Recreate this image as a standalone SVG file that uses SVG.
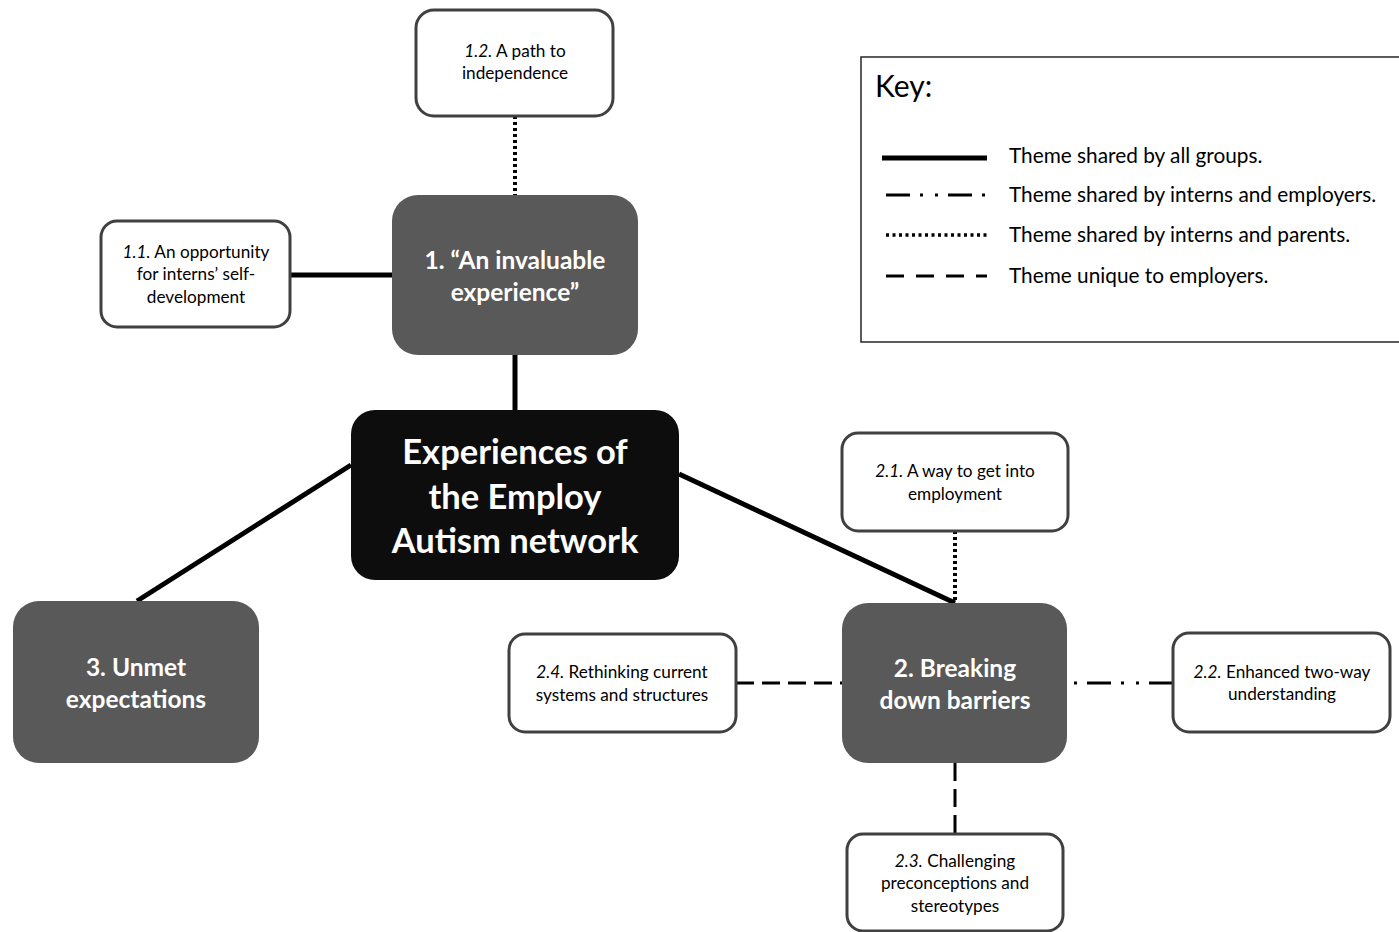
<svg xmlns="http://www.w3.org/2000/svg" width="1399" height="932" viewBox="0 0 1399 932">
<style>
text{font-family:Lato,"Liberation Sans",sans-serif;text-anchor:middle}
.sub rect{fill:#fff;stroke:#404040;stroke-width:3}
.sub text{font-size:17.2px;fill:#000}
.theme rect{fill:#595959}
.theme text{font-size:24.5px;font-weight:bold;fill:#fff}
.center rect{fill:#0d0d0d}
.center text{font-size:34.5px;font-weight:bold;fill:#fff}
.solid{stroke:#000;stroke-width:5;fill:none}
.dot{stroke:#000;stroke-width:4;stroke-dasharray:3 3;fill:none}
.dash{stroke:#000;stroke-width:3;stroke-dasharray:18 8;fill:none}
.ddd{stroke:#000;stroke-width:3;stroke-dasharray:24 10 3 12 3 10;fill:none}
.key text{text-anchor:start;font-size:20.8px;fill:#000}
</style>
<g id="connectors">
<line class="dot" x1="515" y1="116" x2="515" y2="195"/>
<line class="solid" x1="290" y1="275" x2="392" y2="275"/>
<line class="solid" x1="515" y1="355" x2="515" y2="410"/>
<line class="solid" x1="351" y1="465" x2="137" y2="601"/>
<line class="solid" x1="679" y1="474" x2="955" y2="603"/>
<line class="dot" x1="955" y1="531" x2="955" y2="603"/>
<line class="dash" x1="736" y1="683" x2="842" y2="683"/>
<line class="ddd" x1="1173" y1="683" x2="1067" y2="683"/>
<line class="dash" x1="955" y1="763" x2="955" y2="834"/>
</g>
<g id="n12" class="sub"><rect x="416" y="10" width="197" height="106" rx="18"/><text x="515" y="57"><tspan font-style="italic">1.2.</tspan> A path to</text><text x="515" y="79">independence</text></g>
<g id="n11" class="sub"><rect x="101" y="221" width="189" height="106" rx="16"/><text x="196" y="258"><tspan font-style="italic">1.1.</tspan> An opportunity</text><text x="196" y="280">for interns’ self-</text><text x="196" y="303">development</text></g>
<g id="n1" class="theme"><rect x="392" y="195" width="246" height="160" rx="26"/><text x="515" y="269">1. “An invaluable</text><text x="515" y="301">experience”</text></g>
<g id="center" class="center"><rect x="351" y="410" width="328" height="170" rx="24"/><text x="515" y="464">Experiences of</text><text x="515" y="509">the Employ</text><text x="515" y="553">Autism network</text></g>
<g id="n3" class="theme"><rect x="13" y="601" width="246" height="162" rx="26"/><text x="136" y="676">3. Unmet</text><text x="136" y="708">expectations</text></g>
<g id="n2" class="theme"><rect x="842" y="603" width="225" height="160" rx="26"/><text x="955" y="677">2. Breaking</text><text x="955" y="709">down barriers</text></g>
<g id="n21" class="sub"><rect x="842" y="433" width="226" height="98" rx="16"/><text x="955" y="477"><tspan font-style="italic">2.1.</tspan> A way to get into</text><text x="955" y="500">employment</text></g>
<g id="n24" class="sub"><rect x="509" y="634" width="227" height="98" rx="16"/><text x="622" y="678"><tspan font-style="italic">2.4.</tspan> Rethinking current</text><text x="622" y="701">systems and structures</text></g>
<g id="n22" class="sub"><rect x="1173" y="633" width="217" height="99" rx="16"/><text x="1282" y="678"><tspan font-style="italic">2.2.</tspan> Enhanced two-way</text><text x="1282" y="700">understanding</text></g>
<g id="n23" class="sub"><rect x="847" y="834" width="216" height="97" rx="16"/><text x="955" y="867"><tspan font-style="italic">2.3.</tspan> Challenging</text><text x="955" y="889">preconceptions and</text><text x="955" y="912">stereotypes</text></g>
<g id="key" class="key">
<rect x="861" y="57" width="545" height="285" fill="#fff" stroke="#262626" stroke-width="1.5"/>
<text x="875" y="97" style="font-size:30px">Key:</text>
<line x1="882" y1="158" x2="987" y2="158" stroke="#000" stroke-width="5"/>
<text x="1009" y="163">Theme shared by all groups.</text>
<line class="ddd" x1="886" y1="195" x2="987" y2="195"/>
<text x="1009" y="202">Theme shared by interns and employers.</text>
<line x1="886" y1="235" x2="987" y2="235" stroke="#000" stroke-width="3.5" stroke-dasharray="3 3.5"/>
<text x="1009" y="242">Theme shared by interns and parents.</text>
<line x1="886" y1="276" x2="987" y2="276" stroke="#000" stroke-width="3" stroke-dasharray="18 12"/>
<text x="1009" y="283">Theme unique to employers.</text>
</g>
</svg>
